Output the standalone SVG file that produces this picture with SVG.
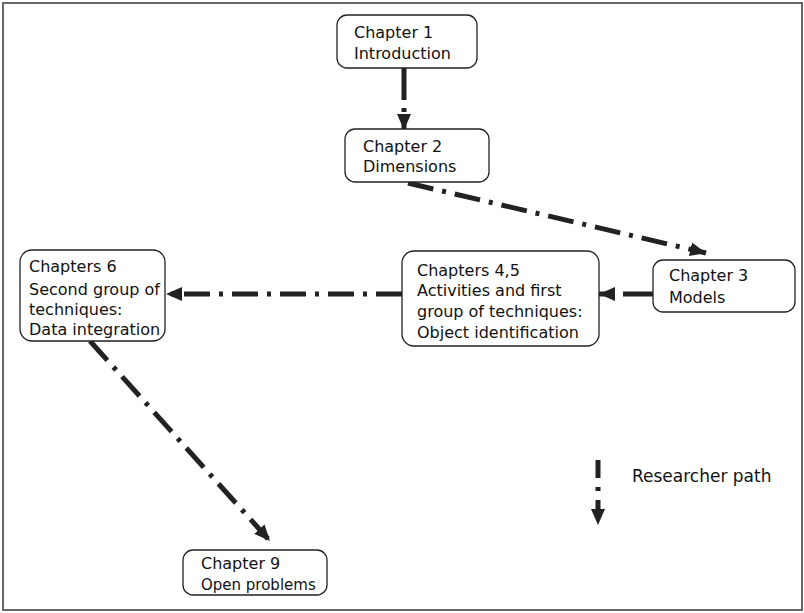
<svg xmlns="http://www.w3.org/2000/svg" width="804" height="613" viewBox="0 0 804 613">
<defs>
<style>
.box{fill:#fff;stroke:#222;stroke-width:1.3}
.t{font-family:"DejaVu Sans",sans-serif;font-size:16px;fill:#111}
.c{fill:none;stroke:#222;stroke-width:5;stroke-dasharray:26 9 4 9}
</style>
<marker id="ah" markerUnits="userSpaceOnUse" markerWidth="18" markerHeight="16" refX="16" refY="8" orient="auto">
<path d="M0,1 L16,8 L0,15 Z" fill="#222"/>
</marker>
</defs>
<rect x="0" y="0" width="804" height="613" fill="#fff"/>
<rect x="3" y="3" width="799" height="607" fill="none" stroke="#666" stroke-width="2"/>
<g id="connectors">
<path class="c" d="M404,68 L404,130" marker-end="url(#ah)" style="stroke-dasharray:32 8 4 8"/>
<path class="c" d="M408,183 L706,253" marker-end="url(#ah)"/>
<path class="c" d="M653,294 L599,294" marker-end="url(#ah)" style="stroke-dasharray:30 8"/>
<path class="c" d="M402,294 L166,294" marker-end="url(#ah)"/>
<path class="c" d="M90,341 L270,541" marker-end="url(#ah)"/>
</g>
<g id="ch1">
<rect class="box" x="337" y="15" width="140" height="53" rx="10"/>
<text class="t" x="354" y="38">Chapter 1</text>
<text class="t" x="354" y="59">Introduction</text>
</g>
<g id="ch2">
<rect class="box" x="345" y="129" width="144" height="53" rx="10"/>
<text class="t" x="363" y="152">Chapter 2</text>
<text class="t" x="363" y="172">Dimensions</text>
</g>
<g id="ch3">
<rect class="box" x="653" y="260" width="142" height="52" rx="10"/>
<text class="t" x="669" y="281">Chapter 3</text>
<text class="t" x="669" y="303">Models</text>
</g>
<g id="ch45">
<rect class="box" x="402" y="251" width="197" height="95" rx="12"/>
<text class="t" x="417" y="276">Chapters 4,5</text>
<text class="t" x="417" y="296">Activities and first</text>
<text class="t" x="417" y="317">group of techniques:</text>
<text class="t" x="417" y="338">Object identification</text>
</g>
<g id="ch6">
<rect class="box" x="20" y="250" width="145" height="91" rx="12"/>
<text class="t" x="29" y="272">Chapters 6</text>
<text class="t" x="29" y="295">Second group of</text>
<text class="t" x="29" y="315">techniques:</text>
<text class="t" x="29" y="335">Data integration</text>
</g>
<g id="ch9">
<rect class="box" x="183" y="550" width="144" height="45" rx="10"/>
<text class="t" x="201" y="569">Chapter 9</text>
<text class="t" x="201" y="590" style="font-size:15px">Open problems</text>
</g>
<g id="legend">
<path class="c" d="M598,460 L598,525" marker-end="url(#ah)" style="stroke-dasharray:18 9 4 9"/>
<text class="t" x="632" y="482" style="font-size:17px">Researcher path</text>
</g>
</svg>
